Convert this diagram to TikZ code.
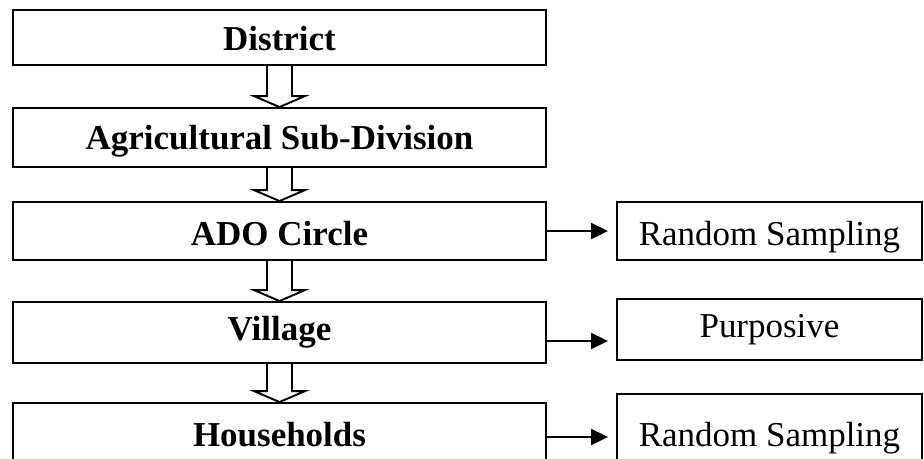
\documentclass[tikz,border=0pt]{standalone}
\usepackage{fontspec}
\setmainfont{Liberation Serif}
\usetikzlibrary{arrows.meta,calc}

% hollow block arrow from one level box down to the next
\newcommand{\downblock}[2]{%
  \draw[line width=1.1pt] ($(#1.south)+(-12.5,0)$) -- ($(#2.north)+(-12.5,-11)$)
    -- ($(#2.north)+(-25.5,-11)$) -- (#2.north) -- ($(#2.north)+(25.5,-11)$)
    -- ($(#2.north)+(12.5,-11)$) -- ($(#1.south)+(12.5,0)$);}

\begin{document}
\begin{tikzpicture}[x=0.02cm,y=-0.02cm,
    level/.style={draw, line width=1.1pt, minimum width=10.66cm, inner sep=0pt,
      text depth=0pt, font=\fontsize{19.9}{24}\selectfont\bfseries},
    method/.style={draw, line width=1.1pt, minimum width=6.1cm, inner sep=0pt,
      text depth=0pt, font=\fontsize{19.9}{24}\selectfont},
    conn/.style={line width=1.1pt, -{Triangle[length=0.34cm,width=0.32cm]}, shorten >=0.16cm}]
    \useasboundingbox (0,0) rectangle (924,458);
    \clip (0,0) rectangle (924,458);

    % Draw the levels
    \node[level, minimum height=1.1cm, text height=1.52em] (dist) at (279.5,37.5) {District};
    \node[level, minimum height=1.18cm, text height=1.41em] (agri) at (279.5,137.5) {Agricultural Sub-Division};
    \node[level, minimum height=1.16cm, text height=1.6em] (ado) at (279.5,231) {ADO Circle};
    \node[level, minimum height=1.22cm, text height=0.92em] (vil) at (279.5,332.5) {Village};
    \node[level, minimum height=1.36cm, text height=1.13em] (hh) at (279.5,437) {Households};

    % Add sampling methods
    \node[method, minimum height=1.16cm, text height=1.6em] (rs1) at (769.5,231) {Random Sampling};
    \node[method, minimum height=1.22cm, text height=0.86em] (pur) at (769.5,329.5) {Purposive};
    \node[method, minimum height=1.72cm, text height=1.13em] (rs2) at (769.5,437) {Random Sampling};

    % Connect levels
    \downblock{dist}{agri}
    \downblock{agri}{ado}
    \downblock{ado}{vil}
    \downblock{vil}{hh}

    % Connect levels to methods
    \draw[conn] (ado.east) -- (rs1.west);
    \draw[conn] ([yshift=-0.17cm]vil.east) -- ([yshift=-0.17cm]vil.east -| pur.west);
    \draw[conn] (hh.east) -- (rs2.west);
\end{tikzpicture}
\end{document}
